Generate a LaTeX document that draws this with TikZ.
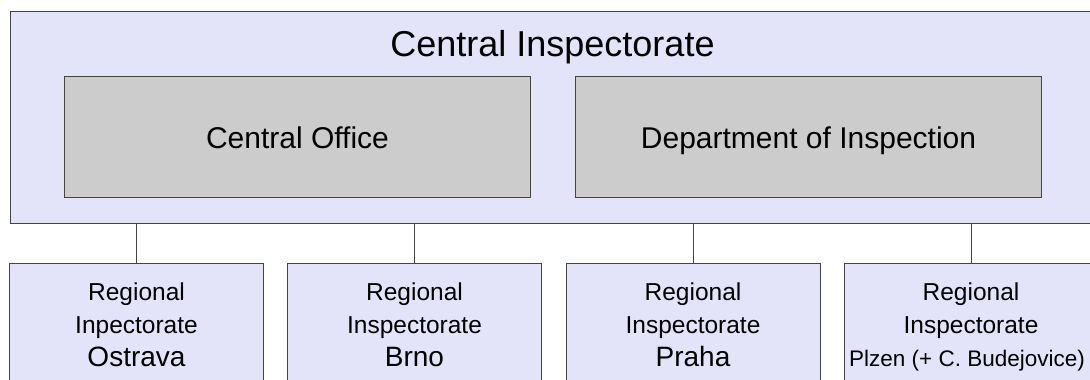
\documentclass[tikz,border=0pt]{standalone}
\usepackage{fontspec}
\setmainfont{Liberation Sans}
\usetikzlibrary{positioning}

\definecolor{lavender}{RGB}{227,227,250}
\definecolor{boxgray}{RGB}{204,204,204}
\definecolor{edgegray}{RGB}{68,68,68}

\begin{document}
\begin{tikzpicture}[x=1pt, y=-1pt,
    inspbox/.style   = {draw=edgegray, line width=1pt, fill=lavender, inner sep=0pt},
    unitbox/.style   = {draw=edgegray, line width=1pt, fill=boxgray,
        minimum width=466pt, minimum height=121pt, inner sep=0pt,
        text height=22pt, text depth=0pt, font=\fontsize{30}{36}\selectfont},
    regionbox/.style = {draw=edgegray, line width=1pt, fill=lavender,
        minimum width=254pt, inner xsep=0pt, inner ysep=19.5pt, align=center,
        font=\fontsize{24.5}{33}\selectfont},
    link/.style      = {draw=edgegray, line width=0.8pt}]
        \useasboundingbox (0,0) rectangle (1090,380);
        \node[inspbox, minimum width=1084pt, minimum height=212.5pt,
            anchor=north west] (inspectorate) at (10,10.7) {};
        \node[font=\fontsize{36}{43}\selectfont, anchor=base] (title)
            at ([yshift=-46pt]inspectorate.north) {Central Inspectorate};
        \node[unitbox, anchor=north west] (office)
            at ([xshift=54pt, yshift=-65.3pt]inspectorate.north west) {Central Office};
        \node[unitbox, right=44pt of office] (department) {Department of Inspection};
        \node[regionbox, anchor=north west] (ostrava) at (9,263)
            {Regional\\Inpectorate\\{\fontsize{28}{33}\selectfont Ostrava}};
        \node[regionbox, right=23pt of ostrava.north east, anchor=north west] (brno)
            {Regional\\Inspectorate\\{\fontsize{28}{33}\selectfont Brno}};
        \node[regionbox, right=23.5pt of brno.north east, anchor=north west] (praha)
            {Regional\\Inspectorate\\{\fontsize{28}{33}\selectfont Praha}};
        \node[regionbox, right=23pt of praha.north east, anchor=north west] (plzen)
            {Regional\\Inspectorate\\{\fontsize{22.5}{33}\selectfont Plzen (+ C. Budejovice)\hspace*{8pt}}};
        \foreach \region in {ostrava, brno, praha, plzen}
            \draw[link] (\region.north) -- (\region.north |- inspectorate.south);
      \end{tikzpicture}
\end{document}
